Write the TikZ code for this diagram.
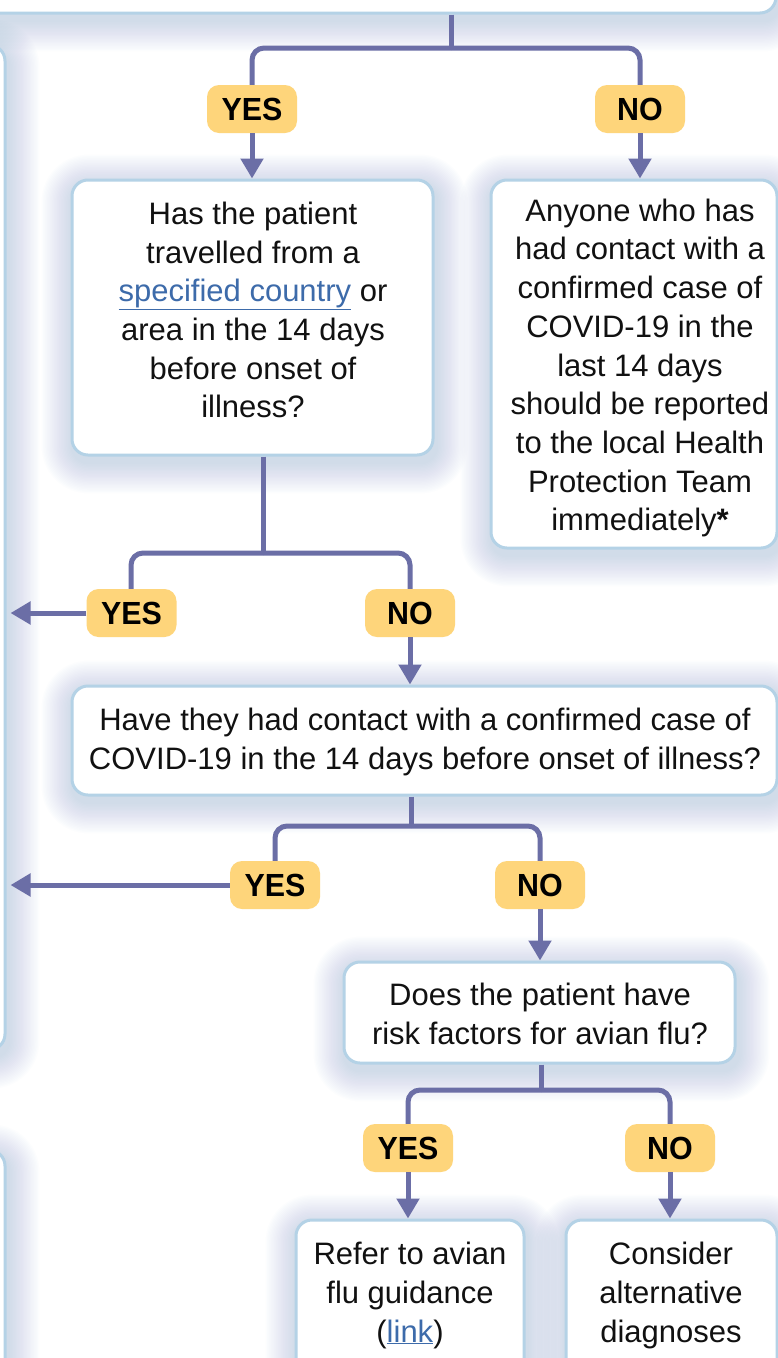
\documentclass[tikz,border=0pt]{standalone}
\usepackage{fontspec}
\setmainfont{Liberation Sans}
\newfontfamily\badgefont[FakeStretch=0.95]{Liberation Sans Bold}
\usetikzlibrary{arrows.meta}
\definecolor{connc}{HTML}{6B6EA6}
\definecolor{badgec}{HTML}{FED57B}
\definecolor{borderc}{HTML}{B4D2E6}
\definecolor{shadowc}{HTML}{7AA6CB}
\definecolor{linkc}{HTML}{3D6BAA}
\definecolor{textc}{HTML}{111111}
\pgfdeclarelayer{base}
\pgfdeclarelayer{bg}
\pgfsetlayers{base,bg,main}
\newcommand{\boxshadow}[1]{%
  \foreach \k in {1,...,22}{%
    \pgfmathsetmacro{\rr}{16+1.4*\k}%
    \pgfmathsetmacro{\dd}{1.4*\k}%
    \fill[shadowc, opacity=0.017, rounded corners=\rr pt]
      ([shift={(-\dd+2,-\dd+7)}]#1.north west) rectangle ([shift={(\dd+2,\dd+6)}]#1.south east);
  }}
\tikzset{
  box/.style={draw=borderc, line width=3pt, fill=white, rounded corners=16pt, inner sep=0pt},
  txt/.style={align=center, inner sep=0pt, text=textc, font=\fontsize{31}{38.7}\selectfont},
  badge/.style={fill=badgec, rounded corners=12pt, minimum width=90pt, minimum height=48pt, inner sep=0pt, font=\badgefont\fontsize{32}{32}\selectfont},
  conn/.style={draw=connc, line width=5pt, rounded corners=12pt},
  arr/.style={conn, -{Triangle[length=20pt,width=22pt]}},
}
\begin{document}
\begin{tikzpicture}[x=1pt,y=-1pt]
\useasboundingbox (0,0) rectangle (778,1358);
\begin{pgfonlayer}{base}
\fill[white] (0,0) rectangle (778,1358);
\end{pgfonlayer}

% boxes
\node[box, minimum width=806pt, minimum height=73pt] (tbox) at (373,-23.5) {};
\node[box, minimum width=65pt, minimum height=1005pt] (lboxA) at (-27.5,547.5) {};
\node[box, minimum width=65pt, minimum height=270pt] (lboxB) at (-27.5,1285) {};
\node[box, minimum width=361pt, minimum height=275pt] (b1) at (252.5,317.5) {};
\node[box, minimum width=286pt, minimum height=368pt] (b2) at (634,364) {};
\node[box, minimum width=705pt, minimum height=109pt] (b3) at (424.5,740.5) {};
\node[box, minimum width=391pt, minimum height=101pt] (b4) at (539.5,1012.5) {};
\node[box, minimum width=228pt, minimum height=160pt] (b5) at (410,1300) {};
\node[box, minimum width=211pt, minimum height=160pt] (b6) at (671.5,1300) {};

\begin{pgfonlayer}{bg}
  \foreach \b in {tbox,lboxA,lboxB,b1,b2,b3,b4,b5,b6}{\boxshadow{\b}}
\end{pgfonlayer}

% texts
\node[txt] (t1) at (253,310) {Has the patient\\travelled from a\\{\color{linkc}\underline{specified country}} or\\area in the 14 days\\before onset of\\illness?};
\node[txt] (t2) at (640,368) {Anyone who has\\had contact with a\\confirmed case of\\COVID-19 in the\\last 14 days\\should be reported\\to the local Health\\Protection Team\\immediately{\bfseries *}};
\node[txt] (t3) at (425,742) {Have they had contact with a confirmed case of\\COVID-19 in the 14 days before onset of illness?};
\node[txt] (t4) at (540,1014) {Does the patient have\\risk factors for avian flu?};
\node[txt] (t5) at (410,1295.5) {Refer to avian\\flu guidance\\({\color{linkc}\underline{link}})};
\node[txt] (t6) at (671,1295.5) {Consider\\alternative\\diagnoses};

% junctions
\coordinate (j1) at (451,48);
\coordinate (j2) at (263,553);
\coordinate (j3) at (411,826);
\coordinate (j4) at (541,1090);

% connectors
\draw[conn] (tbox.south -| j1) -- (j1);
\draw[conn] (j1) -| (252,85);
\draw[conn] (j1) -| (640,85);
\draw[conn] (b1.south -| j2) -- (j2);
\draw[conn] (j2) -| (131,590);
\draw[conn] (j2) -| (410,590);
\draw[conn] (b3.south -| j3) -- (j3);
\draw[conn] (j3) -| (275,861);
\draw[conn] (j3) -| (540,861);
\draw[conn] (b4.south -| j4) -- (j4);
\draw[conn] (j4) -| (408,1124);
\draw[conn] (j4) -| (670,1124);

% badges
\node[badge] (yes1) at (252,109) {YES};
\node[badge] (no1) at (640,109) {NO};
\node[badge] (yes2) at (131.5,613) {YES};
\node[badge] (no2) at (410,613) {NO};
\node[badge] (yes3) at (275,885) {YES};
\node[badge] (no3) at (540,885) {NO};
\node[badge] (yes4) at (408,1148) {YES};
\node[badge] (no4) at (670,1148) {NO};

% arrows
\draw[arr] (yes1.south) -- (yes1.south |- b1.north);
\draw[arr] (no1.south) -- (no1.south |- b2.north);
\draw[arr] (no2.south) -- (no2.south |- b3.north);
\draw[arr] (no3.south) -- (no3.south |- b4.north);
\draw[arr] (yes4.south) -- (yes4.south |- b5.north);
\draw[arr] (no4.south) -- (no4.south |- b6.north);
\draw[arr, shorten >=4pt] (yes2.west) -- (yes2.west -| lboxA.east);
\draw[arr, shorten >=4pt] (yes3.west) -- (yes3.west -| lboxA.east);
\end{tikzpicture}
\end{document}
